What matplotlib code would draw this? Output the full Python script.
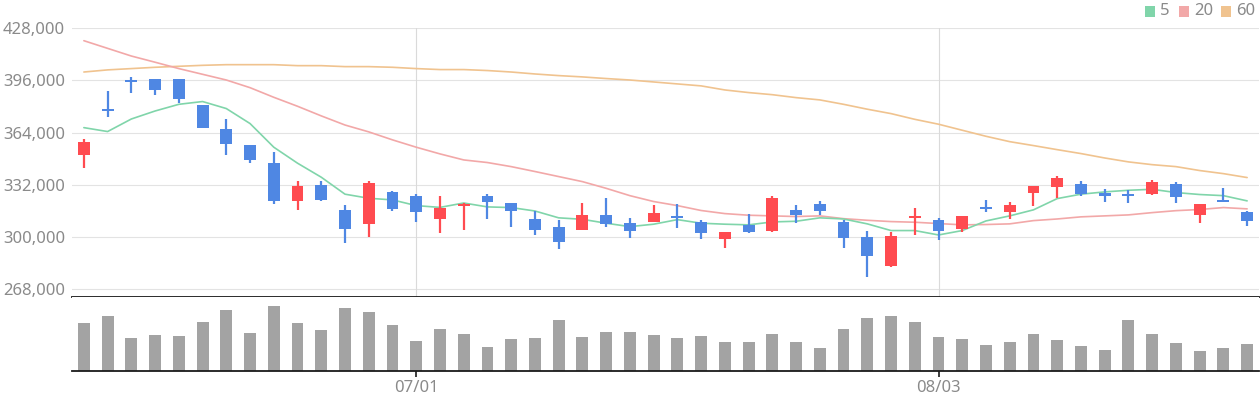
import matplotlib
matplotlib.use("Agg")
import matplotlib.pyplot as plt
from matplotlib.patches import Rectangle
from matplotlib.ticker import FuncFormatter
import numpy as np

plt.rcParams['font.family'] = ['Noto Sans', 'DejaVu Sans']

# ---- data (prices in thousands) ----
opens = [350.6, 378.3, 396.0, 396.9, 396.9, 381.0, 366.3, 356.5, 345.5, 322.4,
         332.0, 316.7, 308.3, 327.7, 325.2, 311.1, 319.3, 325.2, 320.9, 311.1,
         306.2, 304.6, 313.6, 308.7, 309.5, 312.6, 309.3, 299.1, 307.5, 304.0,
         316.7, 320.1, 309.3, 300.1, 282.3, 312.2, 310.5, 305.0, 318.1, 315.4,
         327.2, 330.8, 332.6, 327.1, 326.2, 326.5, 332.6, 313.3, 322.8, 315.4]
highs = [360.2, 389.6, 398.2, 396.9, 396.9, 381.0, 372.4, 356.5, 352.0, 334.2,
         334.2, 319.7, 334.2, 328.3, 326.5, 325.2, 321.2, 326.5, 320.9, 316.0,
         310.5, 320.9, 324.0, 311.8, 319.7, 320.3, 310.5, 303.2, 314.2, 325.2,
         319.7, 322.2, 310.5, 303.8, 303.0, 317.9, 311.8, 313.0, 322.8, 321.6,
         331.4, 337.5, 334.4, 329.5, 328.9, 335.0, 333.8, 320.3, 330.1, 316.0]
lows = [342.6, 373.9, 388.6, 387.1, 382.2, 367.1, 350.6, 345.7, 320.5, 316.7,
        322.2, 296.6, 300.1, 316.0, 309.3, 302.2, 304.6, 311.0, 306.4, 301.5,
        292.8, 304.6, 306.4, 299.5, 309.5, 305.8, 299.1, 293.6, 302.2, 303.4,
        308.9, 313.6, 293.4, 275.6, 281.7, 301.3, 298.3, 303.2, 315.4, 311.1,
        319.1, 324.0, 325.2, 321.6, 320.9, 325.9, 320.9, 308.4, 321.6, 306.9]
closes = [358.3, 378.0, 395.8, 390.4, 384.7, 367.1, 357.3, 347.5, 322.4, 331.4,
          323.0, 305.2, 333.2, 317.5, 315.4, 318.1, 320.5, 321.6, 316.2, 304.6,
          297.2, 313.6, 308.3, 304.0, 314.8, 312.2, 302.8, 303.2, 303.4, 324.0,
          313.3, 316.2, 299.5, 288.5, 300.7, 312.6, 304.0, 313.0, 317.7, 319.7,
          331.4, 336.3, 326.5, 325.4, 325.8, 333.8, 324.6, 320.3, 321.6, 309.9]

ma5 = [367.1, 364.7, 372.4, 377.3, 381.4, 383.1, 378.8, 369.6, 355.1, 345.3,
       336.7, 326.3, 323.8, 322.8, 319.3, 318.2, 320.9, 318.5, 318.1, 316.0,
       311.8, 310.9, 308.5, 306.4, 307.9, 310.7, 308.5, 307.9, 307.5, 309.3,
       309.7, 311.8, 311.1, 308.1, 304.0, 304.0, 301.3, 304.0, 309.9, 313.0,
       316.7, 323.6, 326.3, 327.7, 328.7, 329.3, 327.3, 326.1, 325.4, 322.2]
ma20 = [420.4, 415.7, 411.0, 407.2, 403.3, 399.8, 396.3, 391.6, 385.7, 380.2,
        374.3, 368.7, 364.5, 359.6, 355.1, 351.0, 347.3, 345.7, 343.2, 340.2,
        337.1, 334.0, 329.9, 325.4, 321.8, 319.3, 316.3, 314.4, 313.4, 313.0,
        312.6, 313.0, 311.3, 310.3, 309.5, 309.1, 308.3, 307.5, 307.7, 308.1,
        310.1, 311.1, 312.4, 313.0, 313.6, 315.0, 316.2, 316.9, 318.1, 317.3]
ma60 = [401.2, 402.5, 403.3, 404.1, 404.7, 405.3, 405.7, 405.7, 405.7, 405.1,
        405.1, 404.5, 404.5, 404.1, 403.3, 402.7, 402.7, 402.1, 401.2, 400.0,
        399.0, 398.2, 397.2, 396.3, 395.1, 393.9, 392.7, 390.2, 388.6, 387.3,
        385.5, 384.1, 381.4, 378.4, 375.7, 372.2, 369.2, 365.5, 361.8, 358.5,
        356.1, 353.6, 351.2, 348.5, 346.1, 344.4, 343.2, 340.8, 338.9, 336.5]

volume = [145, 166, 100, 109, 106, 148, 184, 115, 196, 145,
          124, 190, 178, 139, 91, 127, 112, 73, 97, 100,
          154, 103, 118, 118, 109, 100, 106, 88, 88, 112,
          88, 70, 127, 160, 166, 148, 103, 97, 79, 88,
          112, 94, 76, 64, 154, 112, 85, 61, 70, 82]

xtick_pos = [14, 36]
xtick_labels = ['07/01', '08/03']
ytick_vals = [268000, 300000, 332000, 364000, 396000, 428000]
ma_labels = ['5', '20', '60']

# ---- styles ----
UP = '#ff4b50'
DOWN = '#4f87e3'
MA_COLORS = ['#80d5aa', '#f2a8a8', '#f0c38f']
VOL = '#a3a3a3'
GRID = '#e3e3e3'
TXT = '#8a8a8a'

W, H = 1260, 400
fig = plt.figure(figsize=(W / 100, H / 100), dpi=100)
fig.patch.set_facecolor('white')

left_px, right_px = 72, 1259
top_px, mid_px, bot_px = 28.3, 296.7, 371.3
ax = fig.add_axes([left_px / W, 1 - mid_px / H, (right_px - left_px) / W, (mid_px - top_px) / H])
ax2 = fig.add_axes([left_px / W, 1 - bot_px / H, (right_px - left_px) / W, (bot_px - mid_px) / H], sharex=ax)

o = np.array(opens) * 1000
h = np.array(highs) * 1000
l = np.array(lows) * 1000
c = np.array(closes) * 1000
x = np.arange(len(o))
cols = [UP if cc >= oo else DOWN for oo, cc in zip(o, c)]

ax.set_ylim(263450, 428000)
ax.set_xlim(-0.5, 49.5)

# grid
for v in ytick_vals:
    ax.axhline(v, color=GRID, lw=0.8, zorder=0)
for p in xtick_pos:
    ax.axvline(p, color='#dadada', lw=0.8, zorder=0)

# moving averages
for vals, col in zip([ma60, ma20, ma5], [MA_COLORS[2], MA_COLORS[1], MA_COLORS[0]]):
    ax.plot(x, np.array(vals) * 1000, color=col, lw=1.2, zorder=2, solid_capstyle='round')

# candles
ax.vlines(x, l, h, colors=cols, lw=1.6, zorder=3)
body_bottom = np.minimum(o, c)
body_h = np.maximum(np.abs(c - o), 1300)
body_bottom = np.where(np.abs(c - o) < 1300, (o + c) / 2 - 650, body_bottom)
ax.bar(x, body_h, bottom=body_bottom, width=0.5, color=cols, zorder=4, linewidth=0)

ax.set_yticks(ytick_vals)
ax.yaxis.set_major_formatter(FuncFormatter(lambda v, p: f'{int(v):,}'))
ax.tick_params(axis='y', length=0, pad=5, labelsize=12, labelcolor=TXT)
ax.tick_params(axis='x', length=0, labelbottom=False)
for s in ['top', 'right', 'left']:
    ax.spines[s].set_visible(False)
ax.spines['bottom'].set_color('#1a1a1a')
ax.spines['bottom'].set_linewidth(1.3)
ax.spines['bottom'].set_zorder(5)

# volume
ax2.bar(x, volume, width=0.5, color=VOL, linewidth=0)
ax2.set_ylim(0, 224)
ax2.set_yticks([])
for s in ['top', 'right', 'left']:
    ax2.spines[s].set_visible(False)
ax2.spines['bottom'].set_color('#1a1a1a')
ax2.spines['bottom'].set_linewidth(1.3)
ax2.set_xticks(xtick_pos)
ax2.set_xticklabels(xtick_labels)
ax2.tick_params(axis='x', length=4, width=1.2, color='#1a1a1a', pad=2, labelsize=12, labelcolor=TXT)
ax.set_xlim(-0.5, 49.5)

# legend (manual)
items = [(1145, 1160), (1179, 1194), (1221, 1236)]
for (sx, tx), lab, col in zip(items, ma_labels, MA_COLORS):
    fig.add_artist(Rectangle((sx / W, 1 - 16.5 / H), 10 / W, 10 / H,
                             transform=fig.transFigure, facecolor=col, edgecolor='none'))
    fig.text(tx / W, 1 - 11 / H, lab, ha='left', va='center', fontsize=12, color=TXT)

fig.savefig('out.png', dpi=100, facecolor='white')
